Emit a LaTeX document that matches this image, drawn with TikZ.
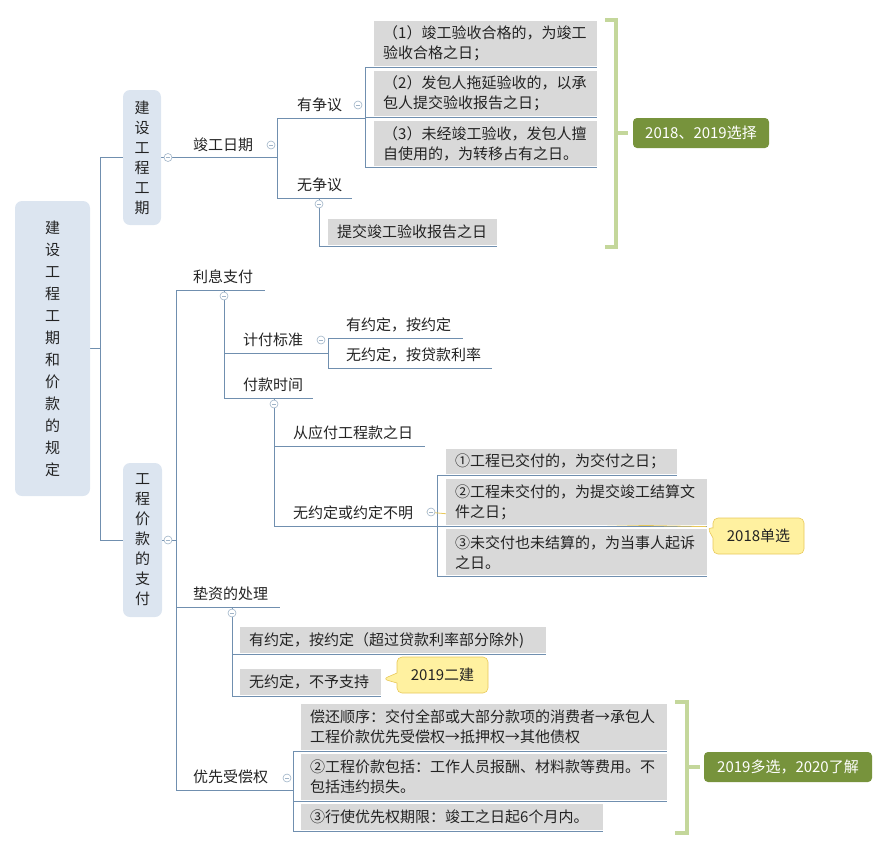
\documentclass[tikz,border=0pt]{standalone}
\usepackage{fontspec}
\setmainfont{Noto Sans CJK SC}
\usepackage{tikz}
\usetikzlibrary{shapes.callouts, backgrounds}
\definecolor{linec}{RGB}{112,143,175}
\definecolor{foldc}{RGB}{160,180,200}
\definecolor{rootc}{RGB}{220,229,240}
\definecolor{boxg}{RGB}{217,217,217}
\definecolor{txtc}{RGB}{35,35,35}
\definecolor{tagc}{RGB}{119,147,60}
\definecolor{bracec}{RGB}{196,215,155}
\definecolor{notec}{RGB}{255,241,160}
\definecolor{noteb}{RGB}{232,200,90}

\begin{document}
\begin{tikzpicture}[x=1pt, y=-1pt, font=\fontsize{15}{20}\selectfont, text=txtc,
        link/.style = {draw=linec, line width=1pt},
        topic/.style = {anchor=south west, inner xsep=0pt, inner ysep=6pt, align=left, text width=#1},
        gbox/.style = {anchor=north west, fill=boxg, inner xsep=9pt, inner ysep=0pt, align=left, text width=#1},
        vbox/.style = {fill=rootc, rounded corners=7pt, align=center, inner sep=0pt},
        fold/.style = {circle, draw=foldc, fill=white, line width=0.6pt, minimum size=8pt, inner sep=0pt,
            path picture={\draw[foldc, line width=0.6pt] ([xshift=-2pt]path picture bounding box.center) -- ([xshift=2pt]path picture bounding box.center);}},
        tag/.style = {fill=tagc, text=white, rounded corners=4pt, minimum height=30pt},
        note/.style = {rectangle callout, fill=notec, draw=noteb, line width=0.6pt, rounded corners=5pt,
            minimum width=91pt, minimum height=36pt, callout pointer width=10pt},
        brace/.style = {draw=bracec, line width=4pt}]
                \useasboundingbox (0,0) rectangle (888,852);
                % root and the two branches
                \node[vbox, minimum width=75pt, minimum height=295pt, font=\fontsize{15}{22}\selectfont] (1) at (52.5,348.5) {建\\设\\工\\程\\工\\期\\和\\价\\款\\的\\规\\定};
                \node[vbox, minimum width=38pt, minimum height=135pt] (2) at (142,157.5) {建\\设\\工\\程\\工\\期};
                \node[vbox, minimum width=39pt, minimum height=154pt] (11) at (142.5,540) {工\\程\\价\\款\\的\\支\\付};
                \coordinate (k1) at (100,348.5);
                \coordinate (k11) at (176,540);
                % 工期
                \node[topic=84pt] (3) at (193,157.5) {竣工日期};
                \node[topic=68pt] (4) at (297,118) {有争议};
                \node[gbox=205pt, minimum height=45pt] (5) at (374,21) {（1）竣工验收合格的，为竣工\\验收合格之日；};
                \node[gbox=205pt, minimum height=45pt] (6) at (374,71) {（2）发包人拖延验收的，以承\\包人提交验收报告之日；};
                \node[gbox=205pt, minimum height=45pt] (7) at (374,121) {（3）未经竣工验收，发包人擅\\自使用的，为转移占有之日。};
                \node[topic=55pt] (8) at (297,198) {无争议};
                \node[gbox=151pt, minimum height=26pt] (9) at (328,219) {提交竣工验收报告之日};
                \node[tag, minimum width=136pt] (10) at (701,133) {2018、2019选择};
                % 利息支付
                \node[topic=72pt] (12) at (193,290) {利息支付};
                \node[topic=85pt] (13) at (243,353) {计付标准};
                \node[topic=117pt] (14) at (346,338) {有约定，按约定};
                \node[topic=146pt] (15) at (346,368) {无约定，按贷款利率};
                \node[topic=70pt] (16) at (243,398) {付款时间};
                \node[topic=132pt] (17) at (293,446) {从应付工程款之日};
                \node[topic=144pt] (18) at (293,526) {无约定或约定不明};
                \node[gbox=213pt, minimum height=25pt] (19) at (446,449) {①工程已交付的，为交付之日；};
                \node[gbox=243pt, minimum height=46pt] (20) at (446,479) {②工程未交付的，为提交竣工结算文\\件之日；};
                \node[gbox=243pt, minimum height=46pt] (21) at (446,529) {③未交付也未结算的，为当事人起诉\\之日。};
                \node[note, callout absolute pointer={(707,527)}] (22) at (758.5,536) {2018单选};
                % 垫资
                \node[topic=87pt] (23) at (193,607) {垫资的处理};
                \node[gbox=288pt, minimum height=26pt] (24) at (240,627) {有约定，按约定（超过贷款利率部分除外)};
                \node[gbox=123pt, minimum height=26pt] (25) at (240,669) {无约定，不予支持};
                \node[note, callout absolute pointer={(383,679)}] (26) at (442.5,675) {2019二建};
                % 优先受偿权
                \node[topic=100pt] (27) at (193,790) {优先受偿权};
                \node[gbox=348pt, minimum height=46pt] (28) at (301,704) {偿还顺序：交付全部或大部分款项的消费者→承包人\\工程价款优先受偿权→抵押权→其他债权};
                \node[gbox=348pt, minimum height=46pt] (29) at (301,754) {②工程价款包括：工作人员报酬、材料款等费用。不\\包括违约损失。};
                \node[gbox=284pt, minimum height=26pt] (30) at (301,804) {③行使优先权期限：竣工之日起6个月内。};
                \node[tag, minimum width=168pt] (31) at (788,767) {2019多选，2020了解};
                % collapse marks
                \node[fold] (c2) at (168,157.5) {};
                \node[fold] (c11) at (168,540) {};
                \node[fold] (c3) at (271,145) {};
                \node[fold] (c4) at (358,105) {};
                \node[fold] (c8) at (319,204) {};
                \node[fold] (c12) at (224,296) {};
                \node[fold] (c13) at (321,340) {};
                \node[fold] (c16) at (274,404) {};
                \node[fold] (c18) at (431,512) {};
                \node[fold] (c23) at (232,613) {};
                \node[fold] (c27) at (287,778) {};
                % brackets
                \draw[brace] (605,20) -- (616,20) -- (616,247) -- (605,247);
                \draw[brace] (616,133) -- ([xshift=-5pt]10.west);
                \draw[brace] (675,702) -- (687,702) -- (687,833) -- (675,833);
                \draw[brace] (687,767) -- ([xshift=-4pt]31.west);
                \begin{scope}[on background layer]
                \draw[link] (1.east) -- (k1);
                \draw[link] (k1) |- (2.west);
                \draw[link] (k1) |- (11.west);
                \draw[link] (2.east) -- (3.south east);
                \draw[link] (3.south east) |- (4.south east);
                \draw[link] (3.south east) |- (8.south east);
                \draw[link] (4.south east) |- ([yshift=-1.5pt]5.south east);
                \draw[link] (4.south east) |- ([yshift=-1.5pt]6.south east);
                \draw[link] (4.south east) |- ([yshift=-1.5pt]7.south east);
                \draw[link] ([xshift=22pt]8.south west) |- ([yshift=-1.5pt]9.south east);
                \draw[link] (11.east) -- (k11);
                \draw[link] (k11) |- (12.south east);
                \draw[link] (k11) |- (23.south east);
                \draw[link] (k11) |- (27.south east);
                \draw[link] ([xshift=31pt]12.south west) |- (13.south east);
                \draw[link] ([xshift=31pt]12.south west) |- (16.south east);
                \draw[link] (13.south east) |- (14.south east);
                \draw[link] (13.south east) |- (15.south east);
                \draw[link] ([xshift=31pt]16.south west) |- (17.south east);
                \draw[link] ([xshift=31pt]16.south west) |- (18.south east);
                \draw[link] (18.south east) |- ([yshift=-1.5pt]19.south east);
                \draw[link] (18.south east) |- ([yshift=-1.5pt]20.south east);
                \draw[link] (18.south east) |- ([yshift=-1.5pt]21.south east);
                \draw[draw=noteb, line width=0.8pt] (c18.west) .. controls (560,524) .. (22.pointer);
                \draw[link] ([xshift=39pt]23.south west) |- ([yshift=-1.5pt]24.south east);
                \draw[link] ([xshift=39pt]23.south west) |- ([yshift=-1.5pt]25.south east);
                \draw[link] (27.south east) |- ([yshift=-1.5pt]28.south east);
                \draw[link] (27.south east) |- ([yshift=-1.5pt]29.south east);
                \draw[link] (27.south east) |- ([yshift=-1.5pt]30.south east);
                \end{scope}
            \end{tikzpicture}
\end{document}
